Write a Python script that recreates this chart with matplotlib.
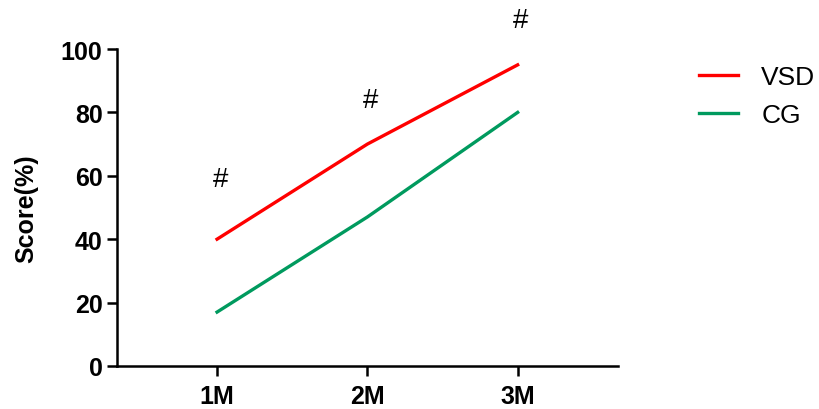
import matplotlib
matplotlib.use("Agg")
import matplotlib.pyplot as plt

categories = ["1M", "2M", "3M"]
vsd = [40, 70, 95]
cg = [17, 47, 80]
hash_y = [59, 84, 109]
yticks = [0, 20, 40, 60, 80, 100]

plt.rcParams['font.family'] = ['Liberation Sans', 'Noto Sans CJK SC', 'DejaVu Sans']

fig = plt.figure(figsize=(8.19, 4.10), dpi=100)
ax = fig.add_axes([0.143, 0.105, 0.612, 0.773])

x = list(range(len(categories)))
ax.plot(x, vsd, color='#FF0000', lw=2.4, label='VSD')
ax.plot(x, cg, color='#009A5E', lw=2.4, label='CG')

for xi, hy in zip(x, hash_y):
    ax.text(xi + 0.02, hy, '#', ha='center', va='center', fontsize=20, clip_on=False)

ax.set_xlim(-0.665, 2.67)
ax.set_ylim(0, 100)
ax.set_xticks(x)
ax.set_xticklabels(categories, fontsize=18, fontweight='bold')
ax.set_yticks(yticks)
ax.set_yticklabels([str(v) for v in yticks], fontsize=18, fontweight='bold')
ax.set_ylabel('Score(%)', fontsize=18, fontweight='bold', labelpad=16)

for s in ['top', 'right']:
    ax.spines[s].set_visible(False)
for s in ['left', 'bottom']:
    ax.spines[s].set_linewidth(1.8)
ax.tick_params(axis='both', width=1.8, length=7, direction='out')
ax.tick_params(axis='x', pad=6)

ax.legend(loc='upper left', bbox_to_anchor=(1.13, 1.0), frameon=False, fontsize=19,
          handlelength=1.45, handletextpad=0.9, labelspacing=0.55, borderaxespad=0.2)

fig.savefig('out.png', dpi=100)
